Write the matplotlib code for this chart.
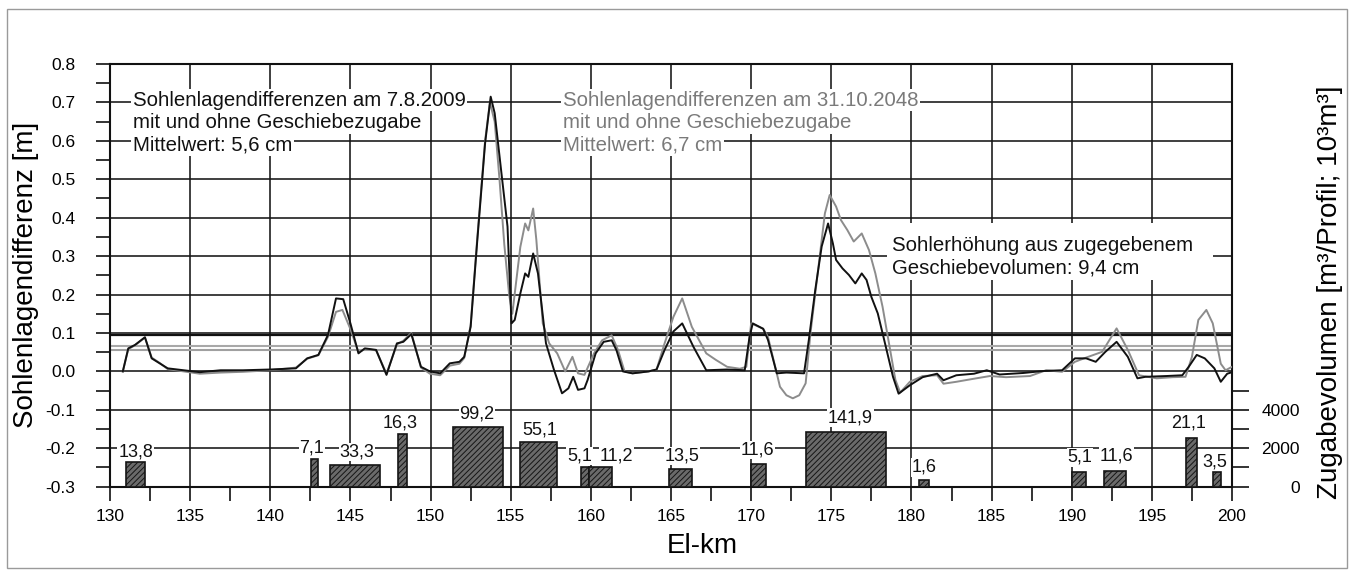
import matplotlib
matplotlib.use("Agg")
import matplotlib.pyplot as plt
from matplotlib.patches import Rectangle
from matplotlib.ticker import MultipleLocator, FixedLocator, FormatStrFormatter

plt.rcParams['font.family'] = ['Liberation Sans', 'DejaVu Sans']
plt.rcParams['axes.unicode_minus'] = False
plt.rcParams['hatch.linewidth'] = 0.7

# ---------------- data ----------------
km_2009 = [130.8, 131.14, 131.56, 132.18, 132.6, 133.1, 133.6, 134.6, 135.6, 136.9, 138.3, 140.0,
           141.6, 142.3, 143.0, 143.6, 144.1, 144.55, 145.0, 145.5, 145.9, 146.6, 147.25, 147.9,
           148.3, 148.8, 149.4, 149.96, 150.6, 151.2, 151.8, 152.1, 152.5, 152.9, 153.4, 153.75,
           154.0, 154.4, 154.8, 155.05, 155.25, 155.6, 155.9, 156.1, 156.4, 156.7, 157.2, 157.7,
           158.2, 158.6, 158.9, 159.2, 159.6, 159.8, 160.3, 160.8, 161.3, 161.6, 162.0, 162.6,
           163.6, 164.1, 164.6, 165.15, 165.7, 166.4, 167.2, 168.5, 169.6, 169.9, 170.1, 170.75,
           171.05, 171.6, 172.2, 173.3, 173.6, 174.0, 174.4, 174.8, 175.1, 175.3, 175.7, 176.1,
           176.5, 176.9, 177.2, 177.5, 177.9, 178.3, 178.85, 179.2, 179.9, 180.7, 181.6, 182.0,
           182.8, 183.9, 184.7, 185.5, 187.0, 188.2, 189.4, 190.2, 190.9, 191.5, 192.1, 192.8,
           193.5, 194.1, 194.6, 195.9, 196.9, 197.3, 197.8, 198.3, 198.9, 199.3, 199.7, 200.0]
val_2009 = [0.0, 0.06, 0.069, 0.089, 0.034, 0.021, 0.008, 0.003, -0.002, 0.003, 0.003, 0.005,
            0.008, 0.034, 0.043, 0.095, 0.19, 0.188, 0.125, 0.047, 0.06, 0.056, -0.009, 0.073,
            0.077, 0.097, 0.012, 0.0, -0.005, 0.021, 0.025, 0.038, 0.116, 0.333, 0.593, 0.715,
            0.672, 0.524, 0.377, 0.125, 0.134, 0.203, 0.255, 0.246, 0.307, 0.255, 0.073, 0.004,
            -0.057, -0.044, -0.014, -0.048, -0.044, -0.022, 0.047, 0.077, 0.081, 0.055, 0.0, -0.005,
            0.0, 0.005, 0.056, 0.104, 0.125, 0.064, 0.003, 0.005, 0.003, 0.09, 0.125, 0.111,
            0.082, -0.005, -0.003, -0.005, 0.082, 0.212, 0.325, 0.385, 0.333, 0.29, 0.268, 0.251,
            0.229, 0.255, 0.238, 0.194, 0.151, 0.082, -0.014, -0.058, -0.036, -0.015, -0.006, -0.023,
            -0.01, -0.006, 0.003, -0.008, -0.004, 0.001, 0.003, 0.034, 0.034, 0.025, 0.051, 0.077,
            0.038, -0.018, -0.014, -0.012, -0.01, 0.012, 0.043, 0.034, 0.008, -0.027, -0.006, -0.002]

km_2048 = [130.8, 131.14, 131.56, 132.18, 132.6, 133.1, 133.6, 134.6, 135.6, 136.9, 138.3, 140.0,
           141.6, 142.3, 143.0, 143.6, 144.1, 144.5, 145.0, 145.5, 145.9, 146.6, 147.25, 147.9,
           148.3, 148.8, 149.4, 149.96, 150.6, 151.2, 151.8, 152.1, 152.5, 152.9, 153.4, 153.7,
           154.0, 154.3, 154.6, 154.9, 155.1, 155.6, 155.9, 156.1, 156.4, 156.6, 157.0, 157.4,
           157.9, 158.4, 158.85, 159.2, 159.6, 160.2, 160.7, 161.3, 161.7, 162.1, 162.6, 163.6,
           164.1, 164.6, 165.15, 165.7, 166.3, 167.2, 167.8, 168.5, 169.3, 169.7, 170.0, 170.75,
           171.05, 171.5, 171.8, 172.2, 172.6, 173.0, 173.4, 173.7, 174.2, 174.6, 174.9, 175.3,
           175.6, 176.0, 176.4, 176.9, 177.35, 177.75, 178.2, 178.6, 179.0, 179.3, 179.9, 180.7,
           181.6, 182.0, 182.8, 183.9, 184.9, 185.9, 187.4, 188.4, 189.4, 190.2, 190.9, 191.9,
           192.8, 193.5, 194.2, 195.3, 196.3, 197.1, 197.5, 197.9, 198.4, 198.8, 199.3, 199.6, 200.0]
val_2048 = [0.0, 0.058, 0.068, 0.088, 0.036, 0.022, 0.006, 0.0, -0.006, -0.003, -0.001, 0.003,
            0.01, 0.033, 0.042, 0.09, 0.155, 0.16, 0.11, 0.05, 0.058, 0.055, -0.006, 0.07,
            0.08, 0.1, 0.01, -0.006, -0.01, 0.015, 0.02, 0.035, 0.12, 0.34, 0.6, 0.70,
            0.65, 0.5, 0.33, 0.2, 0.15, 0.324, 0.385, 0.367, 0.424, 0.342, 0.125, 0.073,
            0.047, 0.0, 0.038, -0.005, -0.009, 0.047, 0.081, 0.094, 0.055, 0.0, -0.005, 0.0,
            0.005, 0.073, 0.142, 0.19, 0.116, 0.047, 0.03, 0.012, 0.007, 0.012, 0.125, 0.111,
            0.09, 0.012, -0.04, -0.062, -0.07, -0.062, -0.031, 0.099, 0.272, 0.411, 0.459, 0.429,
            0.394, 0.368, 0.338, 0.359, 0.316, 0.255, 0.168, 0.073, -0.022, -0.055, -0.027, -0.012,
            -0.01, -0.032, -0.027, -0.019, -0.012, -0.015, -0.012, 0.003, -0.001, 0.025, 0.036, 0.051,
            0.112, 0.056, -0.01, -0.018, -0.015, -0.014, 0.038, 0.134, 0.16, 0.125, 0.02, 0.003, 0.012]

mean_2009 = 0.056
mean_2048 = 0.067
mean_added = 0.094

bar_start = [131.0, 142.55, 143.7, 147.95, 151.4, 155.6, 159.4, 159.9, 164.9, 170.0, 173.4,
             180.5, 190.0, 192.0, 197.1, 198.8]
bar_end = [132.2, 142.95, 146.85, 148.55, 154.5, 157.9, 159.9, 161.3, 166.3, 170.9, 178.4,
           181.1, 190.9, 193.4, 197.8, 199.3]
bar_height = [1300, 1440, 1110, 2740, 3120, 2310, 1030, 1030, 920, 1180, 2830,
              350, 750, 830, 2550, 750]
bar_labels = ["13,8", "7,1", "33,3", "16,3", "99,2", "55,1", "5,1", "11,2", "13,5", "11,6",
              "141,9", "1,6", "5,1", "11,6", "21,1", "3,5"]
label_pos = [(131.6, -0.209), (142.6, -0.2), (145.4, -0.21), (148.1, -0.135), (152.9, -0.112),
             (156.8, -0.152), (159.3, -0.22), (161.6, -0.22), (165.7, -0.22), (170.4, -0.205),
             (176.2, -0.12), (180.8, -0.25), (190.5, -0.224), (192.8, -0.22), (197.3, -0.133),
             (198.9, -0.235)]

left_ticks = [-0.3, -0.2, -0.1, 0.0, 0.1, 0.2, 0.3, 0.4, 0.5, 0.6, 0.7, 0.8]
x_ticks = [130, 135, 140, 145, 150, 155, 160, 165, 170, 175, 180, 185, 190, 195, 200]
right_ticks = [0, 2000, 4000]
right_minor = [1000, 3000, 5000]

text_2009 = ["Sohlenlagendifferenzen am 7.8.2009", "mit und ohne Geschiebezugabe", "Mittelwert: 5,6 cm"]
text_2048 = ["Sohlenlagendifferenzen am 31.10.2048", "mit und ohne Geschiebezugabe", "Mittelwert: 6,7 cm"]
text_added = ["Sohlerhöhung aus zugegebenem", "Geschiebevolumen: 9,4 cm"]

# ---------------- figure ----------------
W, H = 1355, 577
fig = plt.figure(figsize=(W / 100, H / 100), dpi=100)
fig.patches.append(Rectangle((7 / W, 1 - 568 / H), 1340 / W, 559 / H, transform=fig.transFigure,
                             fill=False, edgecolor='#9a9a9a', lw=1.0))

ax = fig.add_axes([110 / W, 1 - 486.7 / H, 1122 / W, 422.7 / H])
ax.set_xlim(130, 200)
ax.set_ylim(-0.3, 0.8)
ax.set_axisbelow(True)

ax.xaxis.set_major_locator(FixedLocator(x_ticks))
ax.xaxis.set_minor_locator(MultipleLocator(2.5))
ax.yaxis.set_major_locator(FixedLocator(left_ticks))
ax.yaxis.set_minor_locator(MultipleLocator(0.05))
ax.yaxis.set_major_formatter(FormatStrFormatter('%.1f'))
ax.tick_params(axis='both', which='both', direction='out', color='#111', width=1.2)
ax.tick_params(axis='y', which='both', length=10, pad=15, labelsize=12.5)
ax.tick_params(axis='x', which='both', length=10, pad=6, labelsize=12.5)
ax.grid(True, which='major', color='#151515', lw=1.15)
for s in ax.spines.values():
    s.set_linewidth(1.5)
    s.set_color('#111')

ax.axhline(mean_2048, color='#a8a8a8', lw=1.5, zorder=1.5)
ax.axhline(mean_2009, color='#a0a0a0', lw=1.5, zorder=1.5)
ax.axhline(mean_added, color='#111', lw=1.6, zorder=1.6)

ax.plot(km_2048, val_2048, color='#8c8c8c', lw=1.4, zorder=3)
ax.plot(km_2009, val_2009, color='#111111', lw=1.4, zorder=4)

ax.set_ylabel("Sohlenlagendifferenz [m]", fontsize=20, va='center')
ax.yaxis.set_label_coords(-0.075, 0.5)
ax.set_xlabel("El-km", fontsize=20, va='center')
ax.xaxis.set_label_coords(0.528, -0.140)

# right axis
ax2 = ax.twinx()
ax2.set_ylim(0, 22000)
ax2.yaxis.set_major_locator(FixedLocator(right_ticks))
ax2.yaxis.set_minor_locator(FixedLocator(right_minor))
ax2.tick_params(axis='y', which='both', direction='out', length=12, width=1.2, color='#111')
ax2.tick_params(axis='y', which='major', pad=37, labelsize=12.5)
for lbl in ax2.get_yticklabels():
    lbl.set_horizontalalignment('right')
for s in ax2.spines.values():
    s.set_visible(False)
ax2.set_ylabel("Zugabevolumen [m³/Profil; 10³m³]", fontsize=20, va='center', rotation=90)
ax2.yaxis.set_label_coords(1.0873, 0.4606)

widths = [e - s for s, e in zip(bar_start, bar_end)]
ax2.bar(bar_start, bar_height, width=widths, align='edge', facecolor='#6a6a6a',
        edgecolor='#151515', hatch='//////', lw=1.2, zorder=2)

T = ax.transData
for txt, (x, y) in zip(bar_labels, label_pos):
    ax2.text(x, y, txt, transform=T, ha='center', va='center', fontsize=13, color='#111',
             bbox=dict(facecolor='white', edgecolor='none', pad=0.5), zorder=5)

line_y = [0.706, 0.648, 0.589]
for txt, y in zip(text_2009, line_y):
    ax2.text(131.43, y, txt, transform=T, ha='left', va='center', fontsize=14.7, color='#111',
             bbox=dict(facecolor='white', edgecolor='none', pad=1.2), zorder=6)
for txt, y in zip(text_2048, line_y):
    ax2.text(158.26, y, txt, transform=T, ha='left', va='center', fontsize=14.7, color='#7a7a7a',
             bbox=dict(facecolor='white', edgecolor='none', pad=1.2), zorder=6)

ax2.add_patch(Rectangle((178.5, 0.238), 20.3, 0.148, transform=T, facecolor='white',
                        edgecolor='none', zorder=5))
for txt, y in zip(text_added, [0.328, 0.269]):
    ax2.text(178.78, y, txt, transform=T, ha='left', va='center', fontsize=14.7, color='#111',
             zorder=6)

fig.savefig("out.png", dpi=100)
